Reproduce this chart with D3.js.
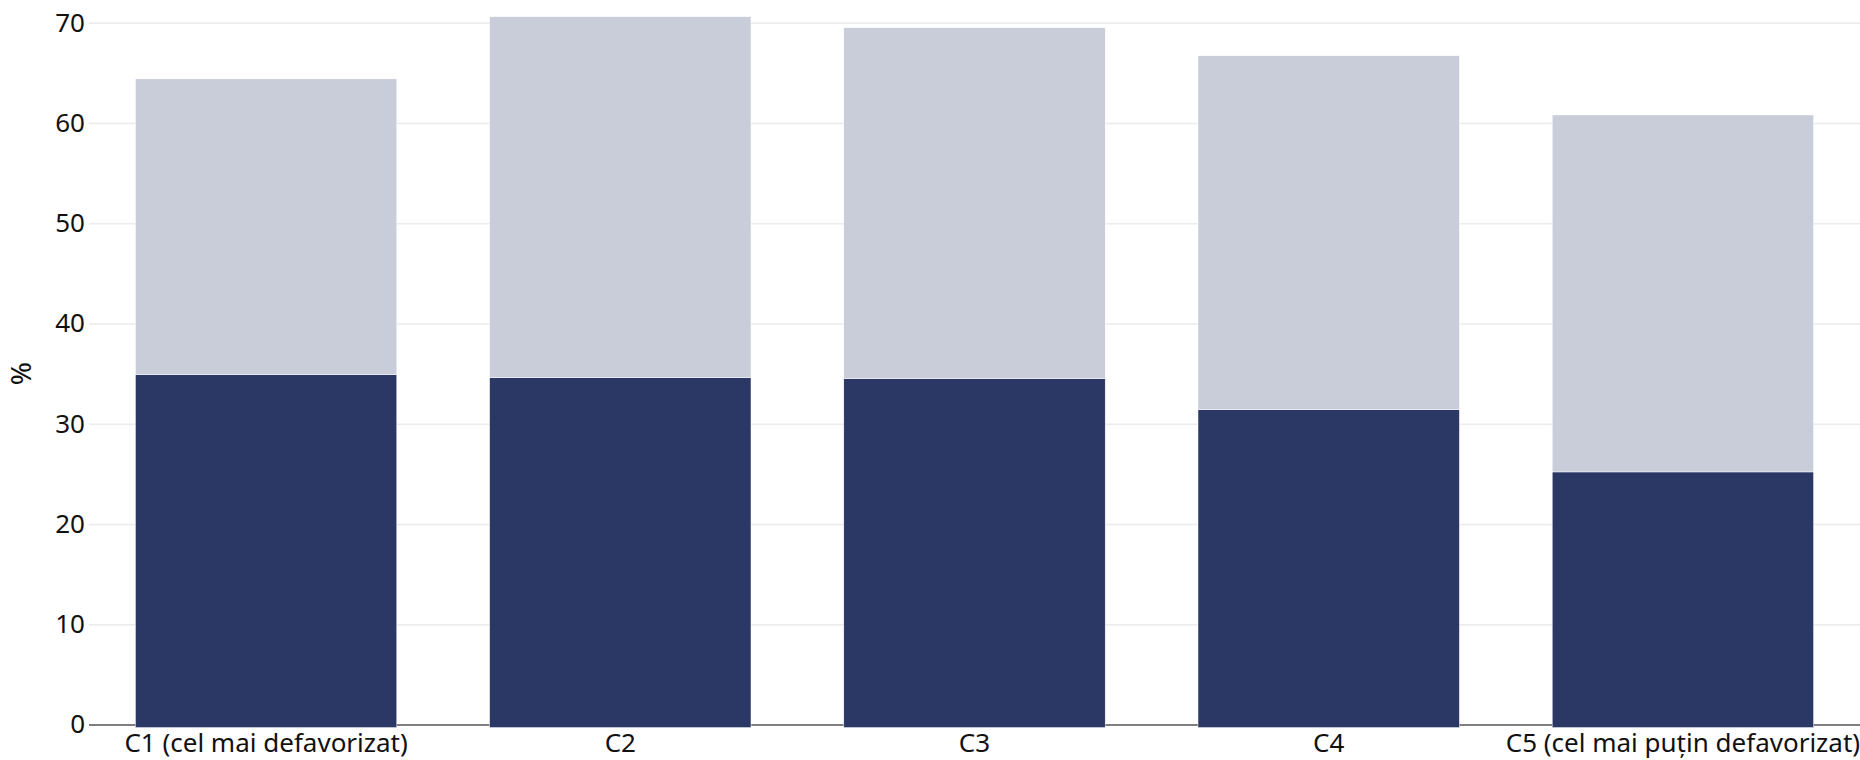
<!DOCTYPE html>
<html>
<head>
<meta charset="utf-8">
<script src="https://cdn.jsdelivr.net/npm/d3@7"></script>
<style>
  body { margin: 0; background: #fff; }
  text { font-family: "Noto Sans", "Open Sans", sans-serif; fill: #111; }
</style>
</head>
<body>
<div id="app"></div>
<script>
const categories = ['C1 (cel mai defavorizat)', 'C2', 'C3', 'C4', 'C5 (cel mai puțin defavorizat)'];
const darkValues = [34.9, 34.6, 34.5, 31.4, 25.2];
const lightValues = [29.5, 36.0, 35.0, 35.3, 35.6];
const yTicks = [0, 10, 20, 30, 40, 50, 60, 70];

const WIDTH = 1860, HEIGHT = 760;
const margin = { left: 89, right: 0, top: 0, bottom: 0 };

const rows = categories.map((c, i) => ({ cat: c, dark: darkValues[i], light: lightValues[i] }));
const series = d3.stack().keys(['dark', 'light'])(rows);
const colors = { dark: '#2b3764', light: '#c9ccd9' };

const svg = d3.select('#app')
  .append('svg')
    .attr('width', WIDTH)
    .attr('height', HEIGHT);

const x = d3.scaleBand()
  .domain(categories)
  .range([margin.left, WIDTH])
  .paddingInner(0.262)
  .paddingOuter(0.131);

// 70 sits at ~22.7px, 0 at ~724.6px
const y = d3.scaleLinear()
  .domain([0, 70])
  .range([724.6, 22.7]);

// gridlines + tick labels
const yAxis = svg.append('g')
  .attr('transform', `translate(${margin.left},0)`)
  .call(d3.axisLeft(y).tickValues(yTicks).tickSize(-(WIDTH - margin.left)).tickPadding(4));
yAxis.select('.domain').remove();
yAxis.selectAll('.tick line')
  .attr('stroke', d => d === 0 ? '#555' : '#ebebeb')
  .attr('stroke-width', 1.5);
yAxis.selectAll('.tick text')
  .style('font-size', '26px')
  .attr('fill', '#111');

svg.append('g')
  .selectAll('g')
  .data(series)
  .enter()
  .append('g')
    .attr('fill', d => colors[d.key])
  .selectAll('rect')
  .data(d => d)
  .enter()
  .append('rect')
    .attr('x', d => x(d.data.cat))
    .attr('width', x.bandwidth())
    .attr('y', d => y(d[1]))
    .attr('height', d => y(d[0]) - y(d[1]) + (d[0] === 0 ? 3 : 0))
    .attr('stroke', '#fff')
    .attr('stroke-width', 0.5);

// x labels
const xAxis = svg.append('g')
  .attr('transform', `translate(0,${y(0)})`)
  .call(d3.axisBottom(x).tickSize(0).tickPadding(9));
xAxis.select('.domain').remove();
xAxis.selectAll('.tick text')
  .style('font-size', '26px')
  .attr('fill', '#111');

// y axis title
svg.append('text')
  .attr('transform', `translate(31,${(y(0) + y(70)) / 2}) rotate(-90)`)
  .attr('text-anchor', 'middle')
  .style('font-size', '28px')
  .text('%');
</script>
</body>
</html>
